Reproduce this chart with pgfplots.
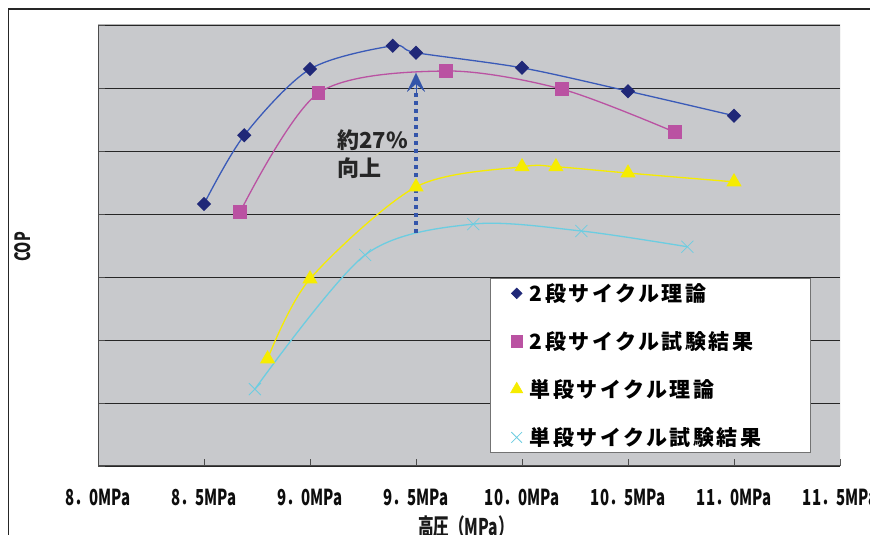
\documentclass[border=0pt]{standalone}
\usepackage{fontspec}
\usepackage{pgfplots}
\pgfplotsset{compat=1.18}
\usetikzlibrary{arrows.meta}
\setmainfont{Noto Sans CJK JP}
\newfontfamily\condfont[FakeStretch=0.68]{Noto Sans CJK JP}
\newfontfamily\legfont[LetterSpace=12]{Noto Sans CJK JP}

\definecolor{plotbg}{RGB}{200,201,204}
\definecolor{twoline}{RGB}{58,90,184}
\definecolor{twomark}{RGB}{32,40,120}
\definecolor{twoexp}{RGB}{186,82,162}
\definecolor{oneline}{RGB}{246,236,0}
\definecolor{oneexp}{RGB}{108,205,225}
\definecolor{arrowblue}{RGB}{52,85,170}

\begin{document}
\begin{tikzpicture}[x=1pt,y=1pt]
\useasboundingbox (0,0) rectangle (870,535);
\clip (0,0) rectangle (870,535);
% outer frame
\draw[line width=1.2pt, black!85] (8.5,-5) -- (8.5,526) -- (880,526);

\begin{axis}[
  at={(98pt,69pt)}, anchor=south west,
  scale only axis, width=742pt, height=441pt,
  xmin=8, xmax=11.5, ymin=0, ymax=7,
  axis background/.style={fill=plotbg},
  axis line style={draw=none},
  tick pos=left,
  major tick length=7pt,
  tick style={draw=black!70, line width=0.8pt},
  xtick={8,8.5,9,9.5,10,10.5,11,11.5},
  xticklabels={8．0MPa,8．5MPa,9．0MPa,9．5MPa,10．0MPa,10．5MPa,11．0MPa,11．5MPa},
  xticklabel style={font=\condfont\bfseries\fontsize{22}{22}\selectfont, text=black!95, anchor=base, yshift=-40pt},
  ytick={0,1,2,3,4,5,6,7},
  yticklabels={},
  ymajorgrids,
  major grid style={black!85, line width=0.9pt},
  legend style={
    at={(rel axis cs:0.961,0.0295)}, anchor=south east,
    draw=black!55, fill=white, line width=0.6pt,
    font=\legfont\bfseries\fontsize{21}{23}\selectfont,
    inner xsep=20pt, inner ysep=3.5pt,
    row sep=24.5pt, column sep=5pt,
  },
  legend cell align=left,
]
% two-stage cycle, theory
\addplot[twoline, line width=1.3pt, smooth, mark=square*, mark size=4.4pt,
  mark options={rotate=45, fill=twomark, draw=twomark}, forget plot]
  coordinates {(8.50,4.16) (8.69,5.25) (9.00,6.30) (9.39,6.67) (9.50,6.56) (10.00,6.32) (10.50,5.95) (11.00,5.56)};
% two-stage cycle, test results
\addplot[twoexp, line width=1.3pt, smooth, mark=square*, mark size=6.3pt,
  mark options={fill=twoexp, draw=twoexp}, forget plot]
  coordinates {(8.67,4.03) (9.04,5.92) (9.64,6.27) (10.19,5.98) (10.72,5.30)};
% single-stage cycle, theory
\addplot[oneline, line width=1.3pt, smooth, mark=triangle*, mark size=7.5pt,
  mark options={fill=oneline, draw=oneline}, forget plot]
  coordinates {(8.80,1.70) (9.00,2.97) (9.50,4.43) (10.00,4.75) (10.16,4.75) (10.50,4.65) (11.00,4.51)};
% single-stage cycle, test results
\addplot[oneexp, line width=1.3pt, smooth, mark=x, mark size=8.5pt,
  mark options={draw=oneexp, line width=0.8pt}, forget plot]
  coordinates {(8.74,1.22) (9.26,3.35) (9.77,3.84) (10.28,3.73) (10.78,3.48)};

% improvement at 9.5 MPa
\draw[arrowblue, line width=3.2pt, dash pattern=on 3.5pt off 4.5pt]
  (axis cs:9.5,3.70) -- (axis cs:9.5,6.0);
\draw[arrowblue, -{Stealth[length=19pt, width=18pt, inset=8pt]}, line width=0.1pt]
  (axis cs:9.5,5.9) -- (axis cs:9.5,6.24);

% frame of the plot area
\draw[black!30, line width=1pt] (rel axis cs:0,1) -- (rel axis cs:1,1) -- (rel axis cs:1,0);
\draw[black!70, line width=1pt] (rel axis cs:0,1) -- (rel axis cs:0,0) -- (rel axis cs:1,0);

\addlegendimage{only marks, mark=square*, mark size=3.8pt, mark options={rotate=45, fill=twomark, draw=twomark}}
\addlegendentry{\makebox[259pt][l]{2段サイクル理論}}
\addlegendimage{only marks, mark=square*, mark size=5.6pt, mark options={fill=twoexp, draw=twoexp}}
\addlegendentry{\makebox[259pt][l]{2段サイクル試験結果}}
\addlegendimage{only marks, mark=triangle*, mark size=7pt, mark options={fill=oneline, draw=oneline}}
\addlegendentry{\makebox[259pt][l]{単段サイクル理論}}
\addlegendimage{only marks, mark=x, mark size=7.5pt, mark options={draw=oneexp, line width=0.8pt}}
\addlegendentry{\makebox[259pt][l]{単段サイクル試験結果}}
\end{axis}

% annotation text
\node[anchor=west, inner sep=0pt, font=\bfseries\fontsize{22}{22}\selectfont, text=black!85] at (337,395) {約27\%};
\node[anchor=west, inner sep=0pt, font=\bfseries\fontsize{22}{22}\selectfont, text=black!85] at (337,367) {向上};

% axis titles
\node[rotate=90, inner sep=0pt, font=\condfont\bfseries\fontsize{21}{21}\selectfont, text=black!90] at (23,288) {COP};
\node[inner sep=0pt, font=\condfont\bfseries\fontsize{23}{23}\selectfont, text=black!90] at (466,8) {高圧（MPa）};
\end{tikzpicture}
\end{document}
